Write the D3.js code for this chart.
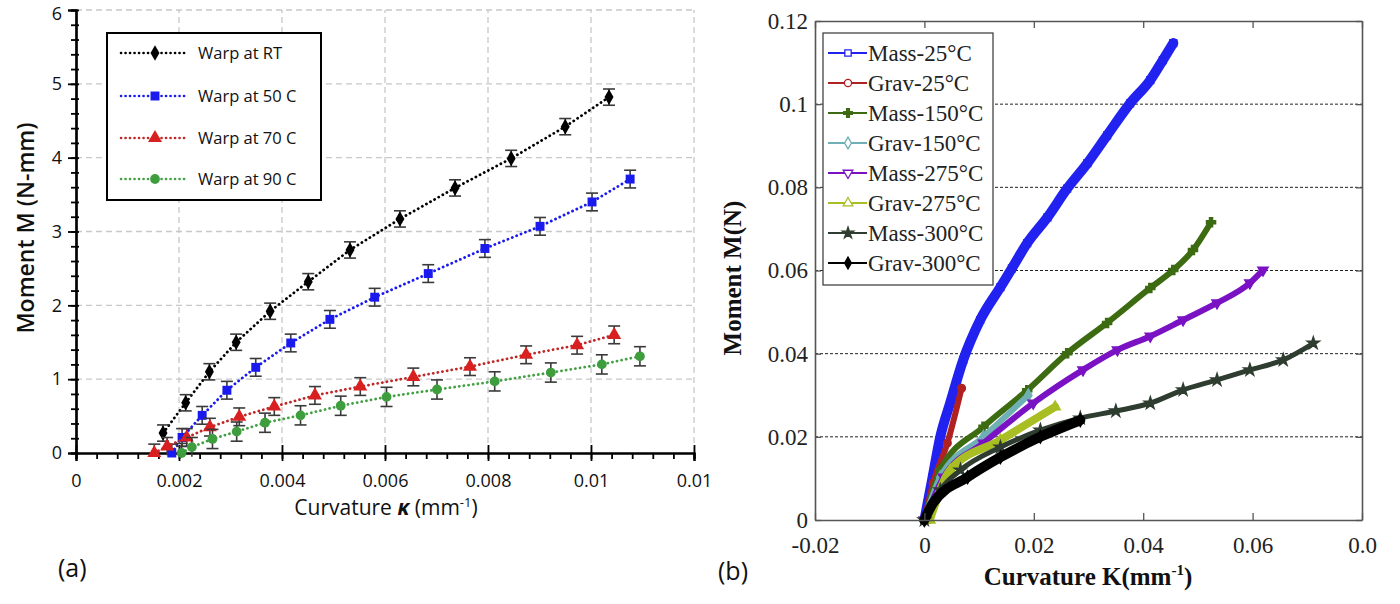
<!DOCTYPE html>
<html>
<head>
<meta charset="utf-8">
<script src="https://cdn.jsdelivr.net/npm/d3@7"></script>
<style>
body{margin:0;background:#fff;}
.sans{font-family:'Open Sans',sans-serif;}
.serif{font-family:'Liberation Serif','Times New Roman',serif;}
</style>
</head>
<body>
<div id="canvas"></div>
<script>
// ---- panel (a) data ----
var kTicksA = [0,0.002,0.004,0.006,0.008,0.010,0.012];
var kLabelsA = ['0','0.002','0.004','0.006','0.008','0.01','0.01'];
var mTicksA = [0,1,2,3,4,5,6];
var mLabelsA = ['0','1','2','3','4','5','6'];
var namesA = ['Warp at RT','Warp at 50 C','Warp at 70 C','Warp at 90 C'];

var rtK = [0.00169,0.00213,0.00259,0.00311,0.00377,0.00451,0.00532,0.00629,0.00736,0.00845,0.00950,0.01035];
var rtM = [0.27,0.68,1.10,1.50,1.92,2.32,2.75,3.17,3.59,3.99,4.42,4.82];
var c50K = [0.00186,0.00206,0.00245,0.00293,0.00349,0.00417,0.00493,0.00580,0.00684,0.00794,0.00901,0.01002,0.01076];
var c50M = [0.00,0.21,0.51,0.85,1.16,1.49,1.81,2.11,2.43,2.77,3.07,3.40,3.71];
var c70K = [0.00152,0.00177,0.00215,0.00260,0.00317,0.00385,0.00464,0.00552,0.00655,0.00765,0.00874,0.00973,0.01045];
var c70M = [0.00,0.09,0.21,0.35,0.49,0.63,0.78,0.90,1.03,1.17,1.33,1.46,1.60];
var c90K = [0.00205,0.00225,0.00265,0.00312,0.00367,0.00436,0.00514,0.00603,0.00701,0.00813,0.00922,0.01021,0.01095];
var c90M = [0.00,0.08,0.19,0.29,0.41,0.51,0.64,0.76,0.86,0.97,1.09,1.20,1.31];
var errA = [0.11,0.12,0.12,0.13];

// ---- panel (b) data ----
var kTicksB = [-0.02,0,0.02,0.04,0.06,0.08];
var kLabelsB = ['-0.02','0','0.02','0.04','0.06','0.0'];
var mTicksB = [0,0.02,0.04,0.06,0.08,0.1,0.12];
var mLabelsB = ['0','0.02','0.04','0.06','0.08','0.1','0.12'];
var namesB = ['Mass-25\u00b0C','Grav-25\u00b0C','Mass-150\u00b0C','Grav-150\u00b0C','Mass-275\u00b0C','Grav-275\u00b0C','Mass-300\u00b0C','Grav-300\u00b0C'];

var mass25K = [0,0.0015,0.0029,0.0047,0.0071,0.0102,0.0139,0.0160,0.0188,0.0225,0.0261,0.0298,0.0334,0.0376,0.0413,0.0436,0.0455];
var mass25M = [0,0.0103,0.0200,0.0281,0.0385,0.0481,0.0560,0.0605,0.0666,0.0728,0.0797,0.0858,0.0925,0.1002,0.1058,0.1106,0.1147];
var grav25K = [0,0.0016,0.0042,0.0068];
var grav25M = [0,0.0089,0.0185,0.0317];
var mass150K = [0,0.0029,0.0108,0.0188,0.0261,0.0334,0.0413,0.0455,0.0491,0.0524];
var mass150M = [0,0.0120,0.0224,0.0312,0.0401,0.0474,0.0558,0.0601,0.0649,0.0716];
var grav150K = [0,0.0029,0.0108,0.0190];
var grav150M = [0,0.0103,0.0200,0.0300];
var mass275K = [0,0.0035,0.0108,0.0199,0.0290,0.0353,0.0413,0.0473,0.0535,0.0595,0.0619];
var mass275M = [0,0.0103,0.0185,0.0281,0.0361,0.0409,0.0442,0.0481,0.0522,0.0570,0.0601];
var grav275K = [0.0010,0.0047,0.0139,0.0239];
var grav275M = [0,0.0120,0.0192,0.0272];
var mass300K = [0,0.0029,0.0066,0.0139,0.0212,0.0285,0.0350,0.0413,0.0473,0.0535,0.0595,0.0656,0.0711];
var mass300M = [0,0.0072,0.0120,0.0175,0.0216,0.0245,0.0262,0.0281,0.0313,0.0337,0.0361,0.0385,0.0425];
var grav300K = [0,0.0016,0.0079,0.0139,0.0212,0.0285];
var grav300M = [0,0.0041,0.0103,0.0151,0.0200,0.0240];

var svg = d3.select('#canvas').append('svg')
    .attr('width',1400).attr('height',604);

function zip(ks, ms){
    return ks.map(function(k,i){ return {k:k, m:ms[i]}; });
}

// ================= panel (a) =================
var xA = d3.scaleLinear().domain([0,0.012]).range([76,694]);
var yA = d3.scaleLinear().domain([0,6]).range([453,10]);
var plotA = svg.append('g').attr('class','sans');

// dashed grid
plotA.selectAll('line.vgrid').data(kTicksA.slice(1)).enter().append('line')
    .attr('x1',function(d){return xA(d)}).attr('x2',function(d){return xA(d)})
    .attr('y1',yA(0)).attr('y2',yA(6))
    .attr('stroke','#c8c8c8').attr('stroke-width',1.3).attr('stroke-dasharray','6,4');
plotA.selectAll('line.hgrid').data(mTicksA.slice(1)).enter().append('line')
    .attr('x1',xA(0)).attr('x2',xA(0.012))
    .attr('y1',function(d){return yA(d)}).attr('y2',function(d){return yA(d)})
    .attr('stroke','#c8c8c8').attr('stroke-width',1.3).attr('stroke-dasharray','6,4');

// minor ticks
var xMinor = plotA.append('g').attr('transform','translate(0,453)')
    .call(d3.axisBottom(xA).tickValues(d3.range(0,0.01201,0.0004)).tickSize(6).tickFormat(''));
var yMinor = plotA.append('g').attr('transform','translate(76,0)')
    .call(d3.axisLeft(yA).tickValues(d3.range(0,6.01,0.2)).tickSize(5).tickFormat(''));
yMinor.selectAll('.tick line').attr('x1',3);

var xAxisA = plotA.append('g').attr('transform','translate(0,453)')
    .call(d3.axisBottom(xA).tickValues(kTicksA).tickSizeOuter(0).tickSize(8).tickPadding(13)
        .tickFormat(function(d,i){return kLabelsA[i]}));
xAxisA.selectAll('.tick line').attr('y1',-8);
var yAxisA = plotA.append('g').attr('transform','translate(76,0)')
    .call(d3.axisLeft(yA).tickValues(mTicksA).tickSizeOuter(0).tickSize(8).tickPadding(6)
        .tickFormat(function(d,i){return mLabelsA[i]}));
yAxisA.select('.tick:last-of-type text').attr('dy','0.55em');

[xMinor,yMinor,xAxisA,yAxisA].forEach(function(g){
    g.selectAll('path.domain').attr('stroke','#000').attr('stroke-width',2.2);
    g.selectAll('.tick line').attr('stroke','#000').attr('stroke-width',1.8);
    g.selectAll('text').attr('font-family','Open Sans').attr('font-size',18).attr('fill','#111');
});

plotA.append('text').attr('transform','translate(34,228) rotate(-90)')
    .attr('text-anchor','middle').attr('font-size',23).attr('font-weight',600).attr('fill','#111')
    .text('Moment M (N-mm)');
var xl = plotA.append('text').attr('x',386).attr('y',515)
    .attr('text-anchor','middle').attr('font-size',21).attr('fill','#111');
xl.append('tspan').text('Curvature ');
xl.append('tspan').attr('font-weight','bold').attr('font-style','italic').text('\u03ba');
xl.append('tspan').text(' (mm');
xl.append('tspan').attr('font-size',13).attr('dy',-8).text('-1');
xl.append('tspan').attr('dy',8).text(')');

plotA.append('text').attr('x',58).attr('y',577).attr('font-size',25).attr('fill','#111').text('(a)');

var seriesA = [zip(rtK,rtM), zip(c50K,c50M), zip(c70K,c70M), zip(c90K,c90M)];
var colA = ['#000000','#1a1aee','#d92020','#3e9e3e'];
var lineColA = ['#000000','#1a1aee','#c02828','#44a044'];
var symA = [d3.symbolDiamond, d3.symbolSquare, d3.symbolTriangle, d3.symbolCircle];
var symSizeA = [70,80,85,75];

var lineA = d3.line().x(function(d){return xA(d.k)}).y(function(d){return yA(d.m)});

seriesA.forEach(function(s,i){
    var g = plotA.append('g');
    g.append('path').datum(s).attr('d',lineA)
        .attr('fill','none').attr('stroke',lineColA[i]).attr('stroke-width',2.8)
        .attr('stroke-linecap','round').attr('stroke-dasharray','0.1,4.6');
    var eb = g.selectAll('g.eb').data(s).enter().append('g').attr('stroke','#3a3a3a').attr('stroke-width',1.6);
    eb.append('line')
        .attr('x1',function(d){return xA(d.k)}).attr('x2',function(d){return xA(d.k)})
        .attr('y1',function(d){return yA(d.m+errA[i])}).attr('y2',function(d){return yA(Math.max(d.m-errA[i],-0.05))});
    eb.append('line')
        .attr('x1',function(d){return xA(d.k)-6}).attr('x2',function(d){return xA(d.k)+6})
        .attr('y1',function(d){return yA(d.m+errA[i])}).attr('y2',function(d){return yA(d.m+errA[i])});
    eb.append('line')
        .attr('x1',function(d){return xA(d.k)-6}).attr('x2',function(d){return xA(d.k)+6})
        .attr('y1',function(d){return yA(d.m-errA[i])}).attr('y2',function(d){return yA(d.m-errA[i])})
        .attr('display',function(d){return d.m-errA[i] < 0 ? 'none' : null});
    g.selectAll('path.pt').data(s).enter().append('path')
        .attr('d',d3.symbol().type(symA[i]).size(symSizeA[i]))
        .attr('transform',function(d){return 'translate('+xA(d.k)+','+yA(d.m)+')'})
        .attr('fill',colA[i]);
});

// legend (a)
var legA = plotA.append('g');
legA.append('rect').attr('x',107).attr('y',33).attr('width',214).attr('height',167)
    .attr('fill','#fff').attr('stroke','#000').attr('stroke-width',2);
var legAy = [53,96,138,179];
namesA.forEach(function(n,i){
    legA.append('line').attr('x1',121).attr('x2',188).attr('y1',legAy[i]).attr('y2',legAy[i])
        .attr('stroke',lineColA[i]).attr('stroke-width',2.6).attr('stroke-linecap','round').attr('stroke-dasharray','0.1,4.4');
    legA.append('path').attr('d',d3.symbol().type(symA[i]).size(symSizeA[i]))
        .attr('transform','translate(155,'+legAy[i]+')').attr('fill',colA[i]);
    legA.append('text').attr('x',198).attr('y',legAy[i]).attr('dy','0.36em')
        .attr('font-size',16.5).attr('fill','#111').text(n);
});

// ================= panel (b) =================
var xB = d3.scaleLinear().domain([-0.02,0.08]).range([815,1362]);
var yB = d3.scaleLinear().domain([0,0.12]).range([520,21]);
var plotB = svg.append('g').attr('class','serif');

plotB.selectAll('line.hgrid').data(mTicksB.slice(1,6)).enter().append('line')
    .attr('x1',xB(-0.02)).attr('x2',xB(0.08))
    .attr('y1',function(d){return yB(d)}).attr('y2',function(d){return yB(d)})
    .attr('stroke','#222').attr('stroke-width',1).attr('stroke-dasharray','3,2');

var seriesB = [zip(mass25K,mass25M), zip(grav25K,grav25M), zip(mass150K,mass150M), zip(grav150K,grav150M),
    zip(mass275K,mass275M), zip(grav275K,grav275M), zip(mass300K,mass300M), zip(grav300K,grav300M)];
var colB = ['#2222f0','#b02222','#3d6b12','#6fb0b4','#7a12c4','#a8be22','#2f3d30','#000000'];
var widthB = [10,6,6,6,6,8,5,10];
var symB = [d3.symbolSquare, d3.symbolCircle, d3.symbolCross, d3.symbolDiamond, d3.symbolTriangle, d3.symbolTriangle, d3.symbolStar, d3.symbolDiamond];
var rotB = [0,0,0,0,180,0,0,0];
var fillB = [false,false,true,false,false,false,true,true];

var lineB = d3.line().curve(d3.curveMonotoneX)
    .x(function(d){return xB(d.k)}).y(function(d){return yB(d.m)});

seriesB.forEach(function(s,i){
    var g = plotB.append('g');
    g.append('path').datum(s).attr('d',lineB)
        .attr('fill','none').attr('stroke',colB[i]).attr('stroke-width',widthB[i])
        .attr('stroke-linecap','round').attr('stroke-linejoin','round');
    g.selectAll('path.pt').data(s).enter().append('path')
        .attr('d',d3.symbol().type(symB[i]).size(45))
        .attr('transform',function(d){return 'translate('+xB(d.k)+','+yB(d.m)+') rotate('+rotB[i]+')'})
        .attr('fill',colB[i]).attr('stroke',colB[i]).attr('stroke-width',1.5);
});

// frame + axes (inward ticks)
var bAxes = [
    plotB.append('g').attr('transform','translate(0,520)')
        .call(d3.axisBottom(xB).tickValues(kTicksB).tickSize(-7).tickSizeOuter(0).tickPadding(17)
            .tickFormat(function(d,i){return kLabelsB[i]})),
    plotB.append('g').attr('transform','translate(0,21)')
        .call(d3.axisTop(xB).tickValues(kTicksB).tickSize(-7).tickSizeOuter(0).tickFormat('')),
    plotB.append('g').attr('transform','translate(815,0)')
        .call(d3.axisLeft(yB).tickValues(mTicksB).tickSize(-6).tickSizeOuter(0).tickPadding(7)
            .tickFormat(function(d,i){return mLabelsB[i]})),
    plotB.append('g').attr('transform','translate(1362,0)')
        .call(d3.axisRight(yB).tickValues(mTicksB).tickSize(-6).tickSizeOuter(0).tickFormat(''))
];
bAxes.forEach(function(g){
    g.selectAll('path.domain').attr('stroke','#555').attr('stroke-width',1.6);
    g.selectAll('.tick line').attr('stroke','#555').attr('stroke-width',1.3);
    g.selectAll('text').attr('font-family','Liberation Serif').attr('font-size',23).attr('fill','#222');
});

plotB.append('text').attr('transform','translate(741,278) rotate(-90)')
    .attr('text-anchor','middle').attr('font-size',25).attr('font-weight','bold').attr('fill','#111')
    .text('Moment M(N)');
var xlb = plotB.append('text').attr('x',1088).attr('y',585)
    .attr('text-anchor','middle').attr('font-size',25).attr('font-weight','bold').attr('fill','#111');
xlb.append('tspan').text('Curvature K(mm');
xlb.append('tspan').attr('font-size',15).attr('dy',-10).text('-1');
xlb.append('tspan').attr('dy',10).text(')');

svg.append('text').attr('class','sans').attr('x',718).attr('y',580)
    .attr('font-size',25).attr('fill','#111').text('(b)');

// legend (b)
var legB = plotB.append('g');
legB.append('rect').attr('x',823).attr('y',33).attr('width',170).attr('height',252)
    .attr('fill','#fff').attr('stroke','#444').attr('stroke-width',1.3);
namesB.forEach(function(n,i){
    var y = 53 + i*30;
    legB.append('line').attr('x1',828).attr('x2',867).attr('y1',y).attr('y2',y)
        .attr('stroke',colB[i]).attr('stroke-width',2);
    legB.append('path').attr('d',d3.symbol().type(symB[i]).size(40))
        .attr('transform','translate(848,'+y+') rotate('+rotB[i]+')')
        .attr('fill',fillB[i] ? colB[i] : '#fff').attr('stroke',colB[i]).attr('stroke-width',1.3);
    legB.append('text').attr('x',868).attr('y',y).attr('dy','0.34em')
        .attr('font-size',23).attr('fill','#222').text(n);
});
</script>
</body>
</html>
